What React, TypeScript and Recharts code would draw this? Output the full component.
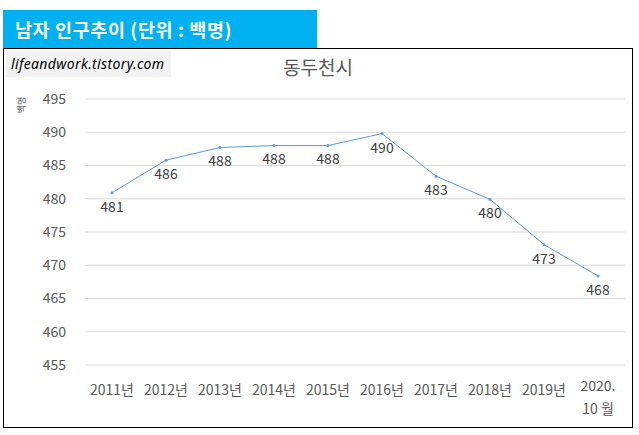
import React from 'react';
import { LineChart, Line, XAxis, YAxis, CartesianGrid, LabelList } from 'recharts';

const categories = ['2011년', '2012년', '2013년', '2014년', '2015년', '2016년', '2017년', '2018년', '2019년', '2020.\n10 월'];
const values = [480.9, 485.8, 487.7, 488.0, 488.0, 489.8, 483.4, 479.9, 473.1, 468.4];
const yTicks = [455, 460, 465, 470, 475, 480, 485, 490, 495];

const data = categories.map((c, i) => ({ name: c, value: values[i] }));

const FONT = '"Noto Sans CJK KR", "Noto Sans", sans-serif';

const XTick = (props: any) => {
  const { x, y, payload } = props;
  const lines = String(payload.value).split('\n');
  if (lines.length === 1) {
    return (
      <text x={x} y={y} dy="0.71em" textAnchor="middle" fill="#595959" fontSize={14} fontFamily={FONT}>
        {lines[0]}
      </text>
    );
  }
  return (
    <g>
      {lines.map((l, i) => (
        <text key={i} x={x} y={y - 4 + i * 23} dy="0.71em" textAnchor="middle" fill="#595959" fontSize={14} fontFamily={FONT}>
          {l}
        </text>
      ))}
    </g>
  );
};

export default function App() {
  return (
    <div style={{ position: 'absolute', left: 0, top: 0, width: 639, height: 435, background: '#fff', overflow: 'hidden', fontFamily: FONT }}>
      <div style={{ position: 'absolute', left: 3, top: 10, width: 314, height: 38, background: '#00b0f0', color: '#fff', fontWeight: 700, fontSize: 18.5, letterSpacing: 0.6, lineHeight: '38px', paddingLeft: 12, boxSizing: 'border-box', whiteSpace: 'nowrap' }}>
        남자 인구추이 (단위 : 백명)
      </div>
      <div style={{ position: 'absolute', left: 3, top: 48, width: 630, height: 380, border: '1.5px solid #000', boxSizing: 'border-box' }} />
      <div style={{ position: 'absolute', left: 6, top: 51, width: 165, height: 26, background: '#f2f2f2', fontStyle: 'italic', fontSize: 14, letterSpacing: 0.35, lineHeight: '26px', paddingLeft: 5, boxSizing: 'border-box', color: '#000', fontFamily: '"Noto Sans", "Open Sans", sans-serif', whiteSpace: 'nowrap' }}>
        lifeandwork.tistory.com
      </div>
      <div style={{ position: 'absolute', left: 0, top: 54, width: 636, textAlign: 'center', fontSize: 19, color: '#595959', lineHeight: '26px' }}>
        동두천시
      </div>
      <div style={{ position: 'absolute', left: 7, top: 98, width: 30, height: 14, fontSize: 9, color: '#595959', transform: 'rotate(-90deg)', lineHeight: '14px', textAlign: 'center', whiteSpace: 'nowrap' }}>
        백명
      </div>
      <div style={{ position: 'absolute', left: 0, top: 0 }}>
        <LineChart width={639} height={435} data={data} margin={{ top: 99, right: 14, left: 45, bottom: 40 }}>
          <CartesianGrid vertical={false} stroke="#d9d9d9" strokeWidth={1} />
          <XAxis
            dataKey="name"
            axisLine={false}
            tickLine={false}
            interval={0}
            height={30}
            tickMargin={14}
            padding={{ left: 27, right: 27 }}
            tick={<XTick />}
          />
          <YAxis
            domain={[455, 495]}
            ticks={yTicks}
            axisLine={false}
            tickLine={false}
            width={40}
            tickMargin={13}
            tick={{ fill: '#595959', fontSize: 14, fontFamily: FONT }}
          />
          <Line
            type="linear"
            dataKey="value"
            stroke="#5b9bd5"
            strokeWidth={1}
            dot={{ r: 1.5, fill: '#5b9bd5', stroke: '#5b9bd5', strokeWidth: 0 }}
            isAnimationActive={false}
          >
            <LabelList
              dataKey="value"
              position="bottom"
              offset={9}
              formatter={(v: any) => Math.round(Number(v))}
              fill="#404040"
              fontSize={14}
              fontFamily={FONT}
            />
          </Line>
        </LineChart>
      </div>
    </div>
  );
}
